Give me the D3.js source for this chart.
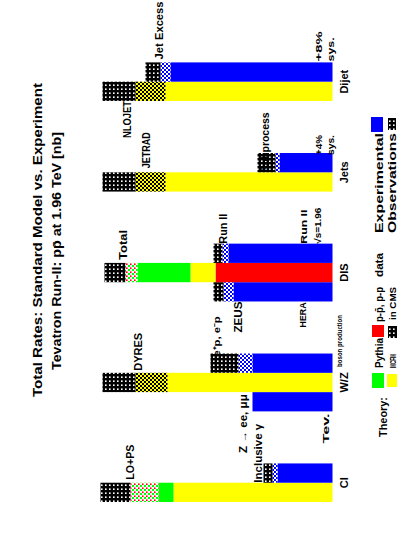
<!DOCTYPE html>
<html><head><meta charset="utf-8">
<script src="https://cdn.jsdelivr.net/npm/d3@7"></script>
<style>html,body{margin:0;padding:0;background:#fff;overflow:hidden}svg{display:block}</style>
</head><body>
<svg id="c" width="399" height="535"></svg>
<script>
// ---------------- data ----------------
const categories = ["CI", "W/Z", "DIS", "Jets", "Dijet"];
const groupBars = [["theory","exp"], ["exp","theory","exp"], ["exp","theory","exp"], ["theory","exp"], ["theory","exp"]];
// experiment bars in order of appearance (left to right)
const expValues = [22, 32, 32, 39.6, 41.6, 21.2, 64.8];
const expStat   = [2, 0, 5.6, 4, 2.4, 1.6, 4];
const expSys    = [3.6, 0, 11.2, 4, 3.6, 7.2, 6];
// theory bars, one per category (stack: red, yellow, green)
const theoryRed    = [0, 0, 46.8, 0, 0];
const theoryYellow = [63.6, 66, 10, 66.8, 66.8];
const theoryGreen  = [6, 0, 21.2, 0, 0];
const theoryStat   = [11.2, 12.8, 4.8, 12, 12];
const theorySys    = [12, 13.2, 8.4, 13.2, 13.2];
const titleLines = ["Total Rates: Standard Model vs. Experiment", "Tevatron Run-II: pp\u0304 at 1.96 TeV [nb]"];
const barNotes = ["LO+PS", "Inclusive \u03b3", "Z \u2192 ee, \u03bc\u03bc", "DYRES", "W \u2192 e\u03bd", "ZEUS", "Total", "Run II", "JETRAD", "Subprocess", "NLOJET", "Jet Excess"];
const legendRow1 = ["Theory:", "Pythia", "p-p\u0304, p-p", "data", "Experimental"];
const legendRow2 = ["MCFM", "in CMS", "Observations"];

// ---------------- layout ----------------
const NW = 535, NH = 399;              // native (unrotated) size
const svg = d3.select("#c");
const defs = svg.append("defs");
function pat(id, bg, dots){
  const p = defs.append("pattern").attr("id", id).attr("patternUnits","userSpaceOnUse").attr("width",4).attr("height",4);
  p.append("rect").attr("width",4).attr("height",4).attr("fill",bg);
  dots.forEach(d => p.append("rect").attr("x",d[0]).attr("y",d[1]).attr("width",d[2]).attr("height",d[2]).attr("fill",d[3]));
}
pat("cap", "#000", [[1,1,1.6,"#fff"]]);
pat("dY", "#ffff00", [[0,0,2,"#000"],[2,2,2,"#000"]]);
pat("dB", "#fff", [[0,0,2,"#0000ff"],[2,2,2,"#0000ff"]]);
pat("dG", "#fff", [[0,0,2,"#00ff00"],[2,2,1.6,"#ff0000"]]);

const g = svg.append("g").attr("transform", `translate(0,${NW}) rotate(-90)`);
const FONT = "'Liberation Sans', Arial, sans-serif";

// flat bar list
const gapUnits = 2.7;
let flat = [], unit = 0, ei = 0;
groupBars.forEach((bars, gi) => {
  bars.forEach(t => {
    if (t === "exp") { flat.push({gi, type:t, slot:unit, v:expValues[ei], stat:expStat[ei], sys:expSys[ei]}); ei++; }
    else flat.push({gi, type:t, slot:unit, r:theoryRed[gi], y:theoryYellow[gi], gr:theoryGreen[gi], stat:theoryStat[gi], sys:theorySys[gi]});
    unit++;
  });
  unit += gapUnits;
});
const totalUnits = unit - gapUnits;
const x = d3.scaleLinear().domain([0, totalUnits]).range([33, 472.6]);
const y = d3.scaleLinear().domain([0, 100]).range([332.5, 82.5]);
const bw = x(1) - x(0);

function seg(x0, v0, v1, fill){
  if (v1 - v0 <= 0) return;
  g.append("rect").attr("x", x0).attr("width", bw).attr("y", y(v1)).attr("height", y(v0) - y(v1)).attr("fill", fill);
}
flat.forEach(b => {
  const x0 = x(b.slot);
  if (b.type === "exp") {
    seg(x0, 0, b.v, "#0000ff");
    seg(x0, b.v, b.v + b.stat, "url(#dB)");
    seg(x0, b.v + b.stat, b.v + b.stat + b.sys, "url(#cap)");
    b.top = y(b.v + b.stat + b.sys);
  } else {
    seg(x0, 0, b.r, "#ff0000");
    seg(x0, b.r, b.r + b.y, "#ffff00");
    seg(x0, b.r + b.y, b.r + b.y + b.gr, "#00ff00");
    const t = b.r + b.y + b.gr;
    seg(x0, t, t + b.stat, b.gr > 0 ? "url(#dG)" : "url(#dY)");
    seg(x0, t + b.stat, t + b.stat + b.sys, "url(#cap)");
    b.top = y(t + b.stat + b.sys);
  }
  b.x0 = x0; b.x1 = x0 + bw;
});

function txt(str, X, Y, size, anchor, len){
  const t = g.append("text").attr("x", X).attr("y", Y).attr("font-family", FONT).attr("font-weight","bold")
    .attr("font-size", size).attr("text-anchor", anchor || "start").attr("fill","#000").text(str);
  if (len) t.attr("textLength", len).attr("lengthAdjust","spacingAndGlyphs");
  return t;
}

// title
txt(titleLines[0], 295, 42, 13, "middle", 314);
txt(titleLines[1], 284, 61, 12, "middle", 238);

// category labels
categories.forEach((c, gi) => {
  const bs = flat.filter(b => b.gi === gi);
  const cx = (bs[0].x0 + bs[bs.length-1].x1) / 2;
  txt(c, cx, 348, 11, "middle");
});

// bar notes: [bar index, side, dx, dy from bar top, width]
const noteLayout = [
  [0, "r", 3, 33, 35], [1, "l0", 0, -2, 59], [2, "re", -2, -6, 59], [3, "r", 2, 39, 38],
  [2, "re", 0, 0, 0], [5, "le", 0, 28, 31], [6, "r", 3, 22, 30], [7, "r", 0, 13, 30],
  [8, "r", 4, 47, 36], [9, "l0", 0, 11, 60], [10, "le", 0, 28, 37], [11, "r", 3, 17, 58]
];
noteLayout.forEach((L, i) => {
  const b = flat[L[0]];
  if (!L[4]) return;
  let X, anchor = "start";
  if (L[1] === "r") X = b.x1 + L[2];
  else if (L[1] === "l0") X = b.x0 + L[2];
  else if (L[1] === "le") { X = b.x0 + L[2]; anchor = "end"; }
  else { X = b.x1 + L[2]; anchor = "end"; }
  txt(barNotes[i], X, b.top + L[3], 10, anchor, L[4]);
});
// second W label line (above D)
txt("e\u207ap, e\u207bp", flat[5].x0 - 15, 220, 9, "end", 40);

// small notes near the base line
const baseNotes = [["+8%", flat[11].x1 + 1, 322, 30], ["sys.", flat[11].x1 + 1, 334, 24],
  ["+4%", flat[9].x1 - 2, 322, 20], ["sys.", flat[9].x1 - 2, 334, 20],
  ["Run II", flat[7].x1, 307, 34], ["\u221as=1.96", flat[7].x1, 321, 36],
  ["HERA", flat[5].x0 - 1, 306, 25, "end"], ["Tev.", flat[2].x0 - 2, 329, 30, "end"]];
baseNotes.forEach(n => txt(n[0], n[1], n[2], 9, n[4] || "start", n[3]));
txt("boson production", 168, 342, 8, "start", 52);

// legend
const L1Y = 383, L2Y = 396;
function sw(X, Y, w, h, fill){ g.append("rect").attr("x",X).attr("y",Y).attr("width",w).attr("height",h).attr("fill",fill); }
txt(legendRow1[0], 98, 387, 11, "start", 40);
sw(147, 372, 15, 12, "#00ff00");
txt(legendRow1[1], 167, L1Y, 10, "start", 30);
sw(198, 372, 12, 12, "#ff0000");
txt(legendRow1[2], 213, L1Y, 10, "start", 35);
txt(legendRow1[3], 258, L1Y, 10, "start", 24);
txt(legendRow1[4], 302, L1Y, 11, "start", 100);
sw(403, 371, 15, 12, "#0000ff");
sw(148, 387, 13, 10, "#ffff00");
txt(legendRow2[0], 167, L2Y, 9, "start", 14);
sw(197, 388, 12, 9, "url(#cap)");
txt(legendRow2[1], 215, L2Y, 9, "start", 33);
txt(legendRow2[2], 302, L2Y, 10, "start", 100);
sw(405, 388, 12, 8, "url(#cap)");
</script>
</body></html>
